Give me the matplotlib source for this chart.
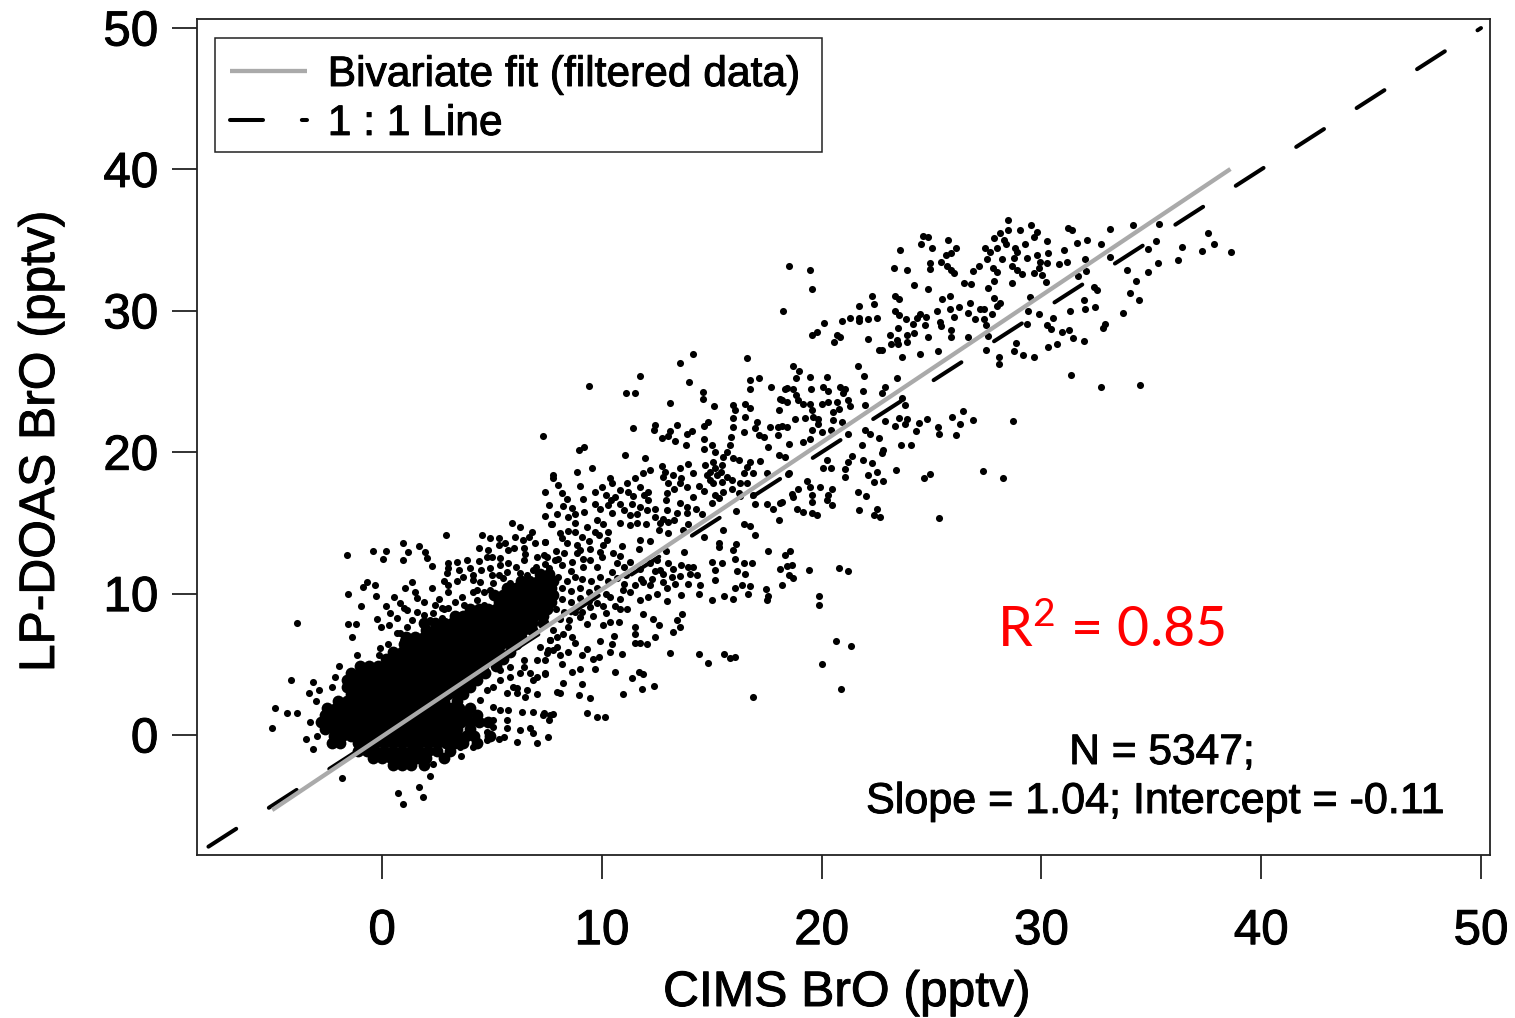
import numpy as np
import matplotlib
matplotlib.use("Agg")
import matplotlib.pyplot as plt
import matplotlib.patheffects as pe
from matplotlib.patches import Rectangle

# values, CIMS BrO / LP-DOAS BrO in pptv
high_pts = [(28.47,36.41),(28.12,35.47),(27.82,35.12),(28.46,35.75),(29.04,35.75),(29.52,36.06),(29.8,35.59),(29.64,35.24),(30.25,34.95),(29.26,34.76),(28.31,35.0),(28.4,34.76),(27.44,34.41),(27.97,34.41),(27.67,34.17),(28.81,34.41),(28.88,34.17),(27.52,33.7),(28.2,33.63),(28.73,33.77),(29.34,33.77),(29.8,33.94),(30.3,34.06),(29.95,33.47),(30.25,33.35),(30.78,33.28),(31.16,33.42),(31.01,34.29),(31.62,34.83),(32.07,35.0),(32.72,34.76),(31.19,35.83),(31.39,35.75),(33.1,35.78),(34.15,36.04),(35.33,36.13),(36.4,34.53),(37.56,35.47),(37.84,34.72),(37.31,34.24),(38.63,34.17),(36.2,33.58),(35.3,33.4),(35.23,34.93),(34.83,34.36),(34.85,32.78),(34.32,32.1),(34.01,31.27),(34.44,30.8),(33.89,32.92),(33.1,33.82),(31.99,33.66),(32.04,32.83),(31.66,32.45),(32.37,31.7),(32.53,31.46),(31.92,30.8),(32.0,30.12),(32.45,30.28),(33.69,29.88),(32.9,29.06),(32.8,28.8),(31.31,29.98),(30.52,29.46),(29.87,29.76),(29.41,30.0),(29.49,31.0),(29.34,29.1),(30.25,28.99),(30.43,28.68),(30.93,28.51),(31.24,28.63),(31.43,28.11),(31.95,27.88),(30.73,27.62),(30.28,27.45),(29.64,26.74),(29.14,26.86),(28.76,27.17),(28.84,27.74),(27.47,27.22),(28.05,26.74),(28.09,26.23),(31.36,25.45),(32.72,24.62),(34.48,24.72),
(24.63,35.28),(24.82,35.24),(24.53,34.72),(25.04,34.41),(25.74,35.0),(26.11,34.41),(23.57,34.29),(25.65,33.94),(25.89,34.06),(25.44,33.47),(25.7,33.16),(25.88,32.88),(26.0,32.69),(24.91,33.35),(24.91,32.95),(23.27,33.0),(23.88,32.88),(26.88,32.83),(27.17,33.18),(27.78,33.0),(28.0,32.76),(28.66,33.18),(28.91,32.88),(29.11,32.6),(29.64,32.69),(29.87,33.0),(30.02,32.52),(30.22,32.05),(26.46,31.98),(26.8,31.89),(27.82,32.1),(27.55,31.63),(28.66,32.0),(24.18,31.82),(24.82,31.53),
(25.82,31.06),(25.47,30.83),(23.35,31.06),(23.5,30.83),(22.31,31.04),(22.36,30.45),(21.71,30.35),(26.73,30.52),(27.82,30.92),(28.12,30.52),(27.97,30.33),(25.24,30.0),(25.82,30.1),(26.23,30.28),(27.21,30.16),(27.4,30.1),(26.65,29.88),(27.75,29.81),(26.0,29.53),(23.34,29.98),(23.54,29.69),(23.85,29.39),(24.48,29.81),(24.33,29.46),(24.74,29.53),(24.15,29.06),(24.71,28.99),(25.39,29.22),(25.44,28.92),(26.99,29.39),(27.4,29.39),(27.49,29.03),(23.47,28.75),(23.88,28.28),(24.18,28.4),(24.83,28.16),(25.88,28.63),(25.88,28.16),(26.65,28.16),(27.55,28.21),(23.12,28.28),(23.45,27.92),(23.16,27.64),(23.47,27.62),(23.88,27.81),(22.59,27.26),(22.74,27.26),(23.65,26.74),(24.48,26.98),(25.29,27.17),
(21.68,29.46),(21.68,29.29),(21.3,29.46),(20.92,29.27),(22.09,29.39),(22.51,29.46),(20.13,29.15),(19.78,28.51),(19.58,28.28),(20.69,28.28),(20.84,28.16),(20.58,27.81),(22.13,28.04),(18.53,33.18),(19.49,32.92),(19.58,31.53),(18.22,29.98)]

mid_pts = [(18.72,26.11),(18.99,25.73),(18.84,25.28),(19.48,25.33),(20.23,25.33),(21.65,26.11),(21.95,25.38),(23.45,25.26),(18.34,24.5),(18.72,24.5),(18.82,24.03),(19.52,24.46),(20.08,24.58),(20.28,24.34),(20.84,24.58),(21.07,24.5),(20.99,24.2),(21.86,24.34),(22.89,24.62),(22.74,24.2),(18.19,23.68),(18.44,23.56),(18.94,23.68),(19.17,23.4),(19.48,23.44),(20.01,23.4),(20.31,23.56),(20.69,23.56),(21.22,23.68),(21.3,23.25),(21.98,23.33),(23.8,23.33),(23.65,23.8),(19.55,22.97),(20.54,22.85),(20.77,23.09),(19.63,22.5),(18.79,22.38),(19.25,22.45),(20.54,22.26),(20.92,22.15),(19.85,22.38),(18.19,21.84),(18.41,21.79),(19.85,21.98),(19.55,21.56),(20.01,21.44),(20.43,21.56),(19.17,20.73),(19.48,20.9),(18.53,20.61),(21.22,21.27),(21.98,21.56),(22.18,21.27),(22.59,20.97),(21.83,20.5),(22.81,20.14),(22.74,19.91),(23.6,20.5),(24.06,20.5),(22.89,22.19),(23.34,21.86),(23.54,22.43),(23.88,22.38),(23.8,21.98),(24.3,21.49),(24.41,22.03),(24.79,22.38),(25.29,21.79),(25.35,21.32),(25.92,22.5),(26.43,22.92),(26.3,21.98),(26.88,22.26),(26.1,21.25),(28.69,22.22),
(20.23,19.43),(20.08,18.89),(20.42,18.89),(21.37,19.72),(21.22,19.32),(21.07,18.84),(21.07,18.25),(21.9,19.43),(22.28,19.27),(22.13,18.42),(22.51,18.61),(22.36,17.9),(22.81,17.97),(23.38,18.77),(24.91,18.49),(24.68,18.14),(27.34,18.68),(28.23,18.14),(18.49,18.49),(19.32,17.95),(18.94,17.43),(19.48,17.55),(19.93,17.55),(20.46,17.43),(18.64,17.07),(19.55,16.96),(20.31,16.96),(21.67,17.15),(22.01,16.89),(18.72,16.84),(19.55,16.49),(20.23,16.6),(20.46,16.25),(18.87,16.01),(19.17,15.78),(19.55,15.71),(19.78,15.54),(21.7,15.94),(22.51,16.01),(22.36,15.54),(22.66,15.42),(25.36,15.38),(18.19,16.49)]

low_pts = [(14.14,26.92),(13.56,26.28),(16.6,26.63),(11.74,25.38),(13.97,25.0),(9.42,24.68),(11.09,24.16),(11.51,24.16),(14.58,24.27),(14.58,23.73),(13.08,23.45),(16.75,25.1),(17.13,25.26),(16.75,24.46),(17.7,24.63),(18.12,23.73),(18.42,24.51),(18.04,22.98),(15.11,23.26),(15.99,23.33),(16.04,22.98),(16.52,23.4),(16.75,23.1),(16.52,22.46),(15.96,22.39),(17.05,22.15),(14.85,22.15),(14.63,21.85),(15.96,21.75),(12.43,21.92),(12.39,21.56),(11.41,21.68),(13.44,21.92),(13.11,21.51),(12.73,21.02),(13.03,21.14),(13.34,20.78),(13.87,21.26),(14.09,21.51),(13.82,20.5),(16.48,21.44),(16.98,21.68),(17.13,21.21),(17.36,21.04),(17.66,21.8),(18.0,21.75),(18.0,21.21),(15.87,21.09),(14.63,20.9),(14.63,20.26),(15.0,20.5),(15.16,20.03),(15.84,20.5),(15.69,20.03),(15.5,19.63),(17.55,20.38),(11.06,19.79),(11.97,19.6),(9.21,20.34),(8.94,20.15),(7.31,21.14),
(15.99,19.56),(16.22,19.44),(16.75,19.32),(17.21,19.39),(18.04,19.79),(18.34,19.68),(12.73,19.02),(13.56,18.85),(13.94,19.16),(14.7,19.09),(15.08,19.32),(15.46,19.09),(15.16,18.85),(16.6,18.97),(9.54,18.9),(12.2,18.73),(11.89,18.5),(11.51,18.21),(11.14,17.79),(8.86,18.57),(7.77,18.38),(7.77,18.14),(10.35,18.19),(12.88,18.61),(13.26,18.38),(14.14,18.5),(14.78,18.38),(14.93,18.61),(15.23,18.38),(15.69,18.26),(16.45,18.5),(16.9,18.5),(17.51,18.5),(18.5,18.5),(8.02,17.67),(9.01,17.62),(12.8,18.26),(13.03,17.79),(13.56,17.79),(13.87,17.55),(15.08,17.79),(15.46,17.9),(15.92,18.02),(16.29,17.79),(16.6,17.79),
(10.0,17.55),(10.45,17.79),(9.69,17.2),(10.83,17.32),(10.6,16.84),(11.21,17.2),(11.74,17.55),(12.12,17.2),(12.96,17.08),(7.42,17.2),(8.18,17.08),(9.16,16.66),(14.17,16.84),(14.63,17.27),(15.16,16.96),(15.31,16.73),(15.0,16.42),(16.22,17.08),(16.98,16.37),(17.51,16.37),(16.9,16.96),(9.69,16.37),(10.3,16.26),(10.83,16.37),(11.36,16.37),(11.74,16.14),(12.12,16.61),(12.05,15.9),(13.56,16.42),(13.87,16.14),(13.41,15.67),(13.87,15.67),(12.96,15.9),(12.43,15.43),(12.8,15.31),(12.65,14.96),(13.03,15.08),(7.61,16.26),(8.22,16.18),(8.63,16.02),(8.48,15.43),(8.78,15.62),(7.98,15.6),(7.42,15.48),(7.69,14.89),(10.45,15.71),(11.29,15.55),(10.83,15.0),(11.29,14.84),(11.59,14.96),(10.07,14.89),(8.78,14.96),(9.31,14.68),(12.58,14.49),(13.03,14.3),(13.71,14.53),(14.55,15.62),(16.1,15.83),(14.63,14.01),(15.49,14.49),(16.45,14.89),(16.75,14.77),(16.98,14.13),(18.04,15.2),(17.81,15.95),(18.12,16.42),
(8.1,14.3),(8.18,13.9),(8.48,14.42),(8.78,14.37),(9.09,14.01),(9.69,14.37),(9.85,14.13),(10.3,14.37),(10.22,13.78),(7.42,13.66),(11.74,13.78),(12.17,13.71),(11.67,13.12),(12.93,13.0),(13.75,12.95),(15.31,13.61),(15.31,13.26),(16.1,13.54),(15.96,13.07),(17.58,13.02),(18.57,13.02),(18.34,12.72),(8.86,13.43),(9.01,13.07),(9.47,13.12),(10.07,13.43),(9.92,12.95),(10.0,12.59),(10.5,12.84),(10.83,12.65),(7.49,12.6),(8.02,12.48),(8.86,12.84),(9.16,12.48),(9.47,12.36),(11.29,12.25),(10.68,12.13),(10.45,11.54),(8.63,12.25),(9.77,11.89),(9.16,11.89),
(12.5,12.36),(12.2,12.13),(11.74,11.77),(13.03,12.13),(13.26,11.77),(12.65,11.66),(13.94,11.89),(14.17,11.85),(15.0,12.25),(15.46,12.13),(15.16,11.66),(16.07,12.48),(16.45,12.17),(16.83,12.17),(16.14,11.61),(16.52,11.37),(18.12,11.77),(18.65,12.01),(18.42,11.94),(19.44,11.66),(20.8,11.82),(21.2,11.61),(18.5,11.3),(18.72,11.11),(18.19,10.64),(12.8,11.42),(13.56,11.23),(13.34,10.71),(14.32,11.3),(13.94,10.71),(14.47,10.6),(15.16,10.95),(16.04,10.41),(16.37,10.6),(16.72,10.52),(17.48,10.29),(17.58,9.82),(19.86,9.82),(19.86,9.18),
(11.89,10.83),(12.2,10.6),(10.98,10.24),(11.29,10.12),(10.83,9.65),(10.38,9.77),(11.74,9.58),(12.12,9.77),(12.5,10.0),(12.96,10.36),(12.96,9.46),(13.61,9.93),(14.44,9.96),(15.0,9.53),(15.54,9.84),(15.99,9.65),(16.63,9.96),(17.51,9.53),(9.47,9.06),(10.07,9.13),(10.83,8.94),(11.14,8.94),(9.09,8.71),(8.78,8.71),(9.31,7.88),(10.07,7.76),(10.38,8.0),(10.76,8.0),(11.89,8.59),(12.35,8.17),(12.58,7.76),(13.64,8.54),(13.41,8.12),(13.56,7.65),(13.26,7.29),(11.51,7.65),(11.51,7.17),(12.43,6.94),(11.51,6.51),(11.74,6.47),(12.05,6.42),(10.56,7.01),(9.92,6.63),(10.45,6.42),(10.38,5.88),(10.91,5.76),(13.08,5.81),(14.44,5.76),(14.85,5.1),(15.58,5.76),(15.84,5.41),(16.07,5.52),(20.67,6.66),(21.35,6.3),(20.01,5.05),(20.89,3.28),(16.9,2.65),
(9.31,6.11),(9.09,5.64),(9.85,5.52),(9.62,5.34),(8.18,5.05),(9.01,4.7),(9.69,4.65),(8.63,4.46),(10.6,4.46),(11.67,4.46),(11.89,4.34),(11.36,4.0),(11.82,3.28),(12.39,3.47),(10.98,2.93),(8.22,3.71),(9.09,3.64),(8.1,3.0),(8.94,2.81),(9.47,2.58),(9.31,1.56),(9.77,1.28),(10.15,1.28),(7.65,1.4),(7.34,1.4),(7.8,7.4),(8.25,7.17),(8.63,6.94),(8.78,6.47),(8.48,5.88),(7.95,6.23),(7.57,6.0),(8.1,5.64),(7.42,5.29),(7.65,6.7),(7.95,6.94),(8.48,7.65),(9.01,8.35),(7.42,4.34)]

band_pts = [(7.9,13.0),(8.3,12.9),(8.2,12.0),(8.6,11.6),(7.6,11.8),(8.0,11.2),(8.4,10.9),(8.8,11.2),(9.1,11.0),(9.5,10.9),(9.9,11.2),(10.3,10.9),(10.7,11.1),(11.1,11.3),(8.2,10.4),(8.6,10.2),(9.0,10.4),(9.4,10.1),(9.8,10.4),(10.2,10.0),(7.8,9.9),(8.2,9.6),(8.6,9.4),(9.0,9.7),(9.4,9.5),(9.8,9.3),(7.9,8.9),(8.3,8.7),(8.1,8.2),(8.5,8.1),(9.6,8.4),(10.2,8.6),(10.6,9.1),(11.0,10.7),(11.5,10.6),(11.8,11.0),(12.3,11.0),(12.8,10.8),(13.2,11.2),(13.6,12.0),(14.0,11.4),(12.4,11.6),(11.0,11.9),(10.9,13.4),(9.4,13.7),(8.4,13.6),(9.8,15.2),(10.4,16.6),(11.0,15.9),(11.6,15.6),(12.0,14.9),(12.4,16.0),(12.9,16.6),(13.3,15.2),(13.9,14.9),(14.3,16.0),(11.9,17.0),(10.2,17.0),(11.4,16.9),(13.3,17.4),(14.4,17.6),(15.5,17.2),(15.9,17.4),(16.3,16.9),(14.9,18.0),(15.4,18.6),(13.6,18.2),(8.4,16.7),(9.2,15.8),(9.9,16.0),
(0.2,9.1),(0.8,9.3),(1.9,9.4),(2.6,9.6),(3.0,10.6),(3.4,10.9),(3.7,11.2),(3.0,11.8),(3.5,11.7),(4.0,11.8),(4.5,11.7),(5.0,11.3),(5.0,12.6),(5.5,11.1),(6.1,11.9),(6.6,11.3),(6.5,12.8),(7.0,11.9),(7.4,12.1),(6.0,13.2),(6.4,13.8),(5.6,13.6),(4.8,13.1),(2.4,9.2),(3.0,9.0),(1.0,9.0),(0.3,7.8),(0.7,7.2)]

edge_pts = [(-1.6,12.72),(-0.39,13.0),(0.19,13.03),(0.06,12.42),(0.97,13.6),(1.2,12.96),(0.94,12.37),(1.7,13.36),(1.96,12.96),(2.04,12.49),(2.26,11.95),(2.9,14.14),(4.54,14.14),(4.92,13.9),(5.3,13.9),(5.3,13.43),(4.39,13.2),(6.06,14.02),(6.82,14.37),(6.67,14.02),(6.97,13.55),(7.42,13.67),(7.73,14.92),(6.26,14.73),(5.9,15.01),(4.77,12.61),(4.42,12.32),(3.86,12.37),(3.4,12.25),(3.02,12.13),(5.38,12.49),(5.75,13.08),(6.44,13.2),(2.95,11.43),(2.8,10.91),(1.35,10.84),(1.05,10.37),(1.51,10.13),(1.58,9.66),(2.26,10.37),(-0.69,10.84),(-0.85,10.48),(-0.31,10.6),(-1.56,9.94),(-0.28,9.85),(0.55,9.78),(-0.95,9.12),(3.02,10.13),(3.63,9.78),(3.33,9.42),(4.16,10.95),(4.92,11.78),(4.16,10.13),(4.62,10.13),(-3.85,7.94),(-1.53,7.84),(-1.2,7.84),(-0.24,8.2),(0.34,8.6),(0.7,8.24),(-0.06,7.65),(-1.38,6.95),(1.13,8.83),(1.58,8.71),(2.34,8.64),(2.8,8.88),(-1.12,5.65),(0.29,6.43),(-0.09,6.12),(-0.16,5.65),(-1.94,4.89),(-2.14,4.11),(-4.14,3.88),(-3.15,3.76),(-2.85,3.17),(-3.32,2.98),(-2.29,3.41),(-3.0,2.39),(-4.85,1.92),(-4.34,1.57),(-3.88,1.57),(-5.0,0.51),(-3.47,-0.3),(-2.97,-0.08),(-3.15,-1.0),(-3.27,0.93),(-1.8,-3.03),(0.72,-4.07),(1.66,-3.67),(1.84,-4.38),(0.94,-4.85),(2.19,-2.91),(2.34,-2.02),(3.6,-1.47),(7.05,2.89),(7.96,3.05),(7.53,-0.13),(7.05,-0.6),(6.13,-0.48),(7.58,1.05),(7.8,1.47),(7.35,1.52),(6.89,1.64),(6.36,1.64),(5.75,1.76),(6.51,2.7),(6.13,3.29),(6.89,3.88),(7.42,4.35),(6.29,0.34),(6.74,0.46),(5.68,0.46),(5.3,-0.25),(4.77,0.22),(5.38,3.88),(5.07,3.41),(4.47,2.46),(5.68,2.94),(4.77,3.17),(6.89,0.11),
(4.16,11.3),(4.47,10.84),(5.07,10.72),(5.3,11.3),(5.83,10.72),(5.75,12.13),(6.44,12.37),(6.29,11.43),(7.05,12.6),(7.35,12.72),(7.88,12.37),(6.89,11.66),(5.38,12.02),(5.68,11.54),(4.31,10.25),(4.92,10.25),(2.72,8.95),(2.72,8.24),(1.89,8.48),(2.19,8.12),(3.25,8.12),(3.71,9.19),(4.31,9.54),(4.62,9.19),(4.0,8.6),(0.82,7.18),(1.35,8.12),(1.13,7.65),(0.97,6.71),(0.52,6.0),
(5.07,2.0),(5.38,1.76),(5.98,3.41),(6.59,3.17),(6.13,2.94),(5.38,4.59),(5.83,4.82),(6.44,4.82),(7.05,5.29),(7.5,5.77),(6.44,5.29),(7.2,6.24),(7.65,6.71),(7.8,6.0),(5.83,4.11),(6.29,4.35),(7.05,4.11),(6.74,4.35),(5.07,0.58),(5.68,1.05),(5.07,1.05),(5.53,-0.13),(4.77,-0.37),(4.16,-0.84),(3.55,-0.84),(3.1,-1.07)]

# solid part of the cloud, one row of points per LP-DOAS level
core_y = [11.4,10.9,10.4,9.9,9.4,8.9,8.4,7.9,7.4,6.9,6.4,5.9,5.4,4.9,4.4,3.9,3.4,2.9,2.4,1.9,1.4,0.9,0.4,-0.1,-0.6,-1.1,-1.6,-2.1]
core_x = [
    [7.2,7.6],
    [6.3,6.7,7.1,7.5,7.8],
    [5.7,6.1,6.5,6.9,7.3,7.7],
    [5.1,5.5,5.9,6.3,6.7,7.1,7.5,7.8],
    [5.3,5.7,6.1,6.5,6.9,7.3,7.7],
    [4.0,4.4,4.8,5.2,5.6,6.0,6.4,6.8,7.2,7.5],
    [3.3,3.7,4.1,4.5,4.9,5.3,5.7,6.1,6.5,6.9,7.3],
    [1.9,2.4,2.8,3.2,3.6,4.0,4.4,4.8,5.2,5.6,6.0,6.4,6.8,7.3],
    [2.0,2.4,2.8,3.2,3.6,4.0,4.4,4.8,5.2,5.6,6.0,6.4,6.8],
    [1.1,1.5,1.9,2.3,2.7,3.1,3.5,3.9,4.3,4.7,5.1,5.5,5.9,6.3],
    [1.0,1.4,1.8,2.2,2.6,3.0,3.4,3.8,4.2,4.6,5.0,5.4,5.8,6.1],
    [0.5,0.9,1.3,1.7,2.1,2.5,2.9,3.3,3.7,4.1,4.5,4.9,5.3,5.8],
    [0.2,0.6,1.0,1.4,1.8,2.2,2.6,3.0,3.4,3.8,4.2,4.6,5.0,5.5],
    [-1.0,-0.6,-0.2,0.2,0.6,1.0,1.4,1.8,2.2,2.6,3.0,3.4,3.8,4.2,4.6,5.2],
    [-1.4,-1.0,-0.6,-0.2,0.2,0.6,1.0,1.4,1.8,2.2,2.6,3.0,3.4,3.8,4.2,4.7],
    [-1.6,-1.2,-0.8,-0.4,0.0,0.4,0.8,1.2,1.6,2.0,2.4,2.8,3.2,3.6,4.0,4.3],
    [-1.6,-1.2,-0.8,-0.4,0.0,0.4,0.8,1.2,1.6,2.0,2.4,2.8,3.2,3.6,4.0],
    [-1.4,-1.0,-0.6,-0.2,0.2,0.6,1.0,1.4,1.8,2.2,2.6,3.0,3.4,3.7],
    [-2.0,-1.6,-1.2,-0.8,-0.4,0.0,0.4,0.8,1.2,1.6,2.0,2.4,2.8,3.4],
    [-2.5,-2.1,-1.7,-1.3,-0.9,-0.5,-0.1,0.3,0.7,1.1,1.5,1.9,2.3,2.7,3.1,3.5,4.0],
    [-2.6,-2.2,-1.8,-1.4,-1.0,-0.6,-0.2,0.2,0.6,1.0,1.4,1.8,2.2,2.6,3.0,3.4,3.8,4.3],
    [-2.8,-2.4,-2.0,-1.6,-1.2,-0.8,-0.4,0.0,0.4,0.8,1.2,1.6,2.0,2.4,2.8,3.2,3.6,4.0,4.4,4.8],
    [-2.6,-2.2,-1.8,-1.4,-1.0,-0.6,-0.2,0.2,0.6,1.0,1.4,1.8,2.2,2.6,3.0,3.4,4.0],
    [-2.2,-1.8,-1.4,-1.0,-0.6,-0.2,0.2,0.6,1.0,1.4,1.8,2.2,2.6,3.0,3.4,3.8,4.2,4.9],
    [-2.3,-1.9,-1.1,-0.7,-0.3,0.1,0.5,0.9,1.3,1.7,2.1,2.5,2.9,3.3,3.7,4.3],
    [-1.1,-0.7,-0.3,0.1,0.5,0.9,1.3,1.7,2.1,2.5,3.1],
    [-0.4,0.0,0.4,0.8,1.2,1.6,2.0,2.8],
    [0.5,0.9,1.3,1.9],
]

fit_x = [-5.0, 38.6]
fit_y = [-5.31, 40.03]
one_x = [-7.9, 50.0]
one_y = [-7.9, 50.0]
xticks = [0, 10, 20, 30, 40, 50]
yticks = [0, 10, 20, 30, 40, 50]

plt.rcParams['font.family'] = ['Liberation Sans', 'DejaVu Sans']
plt.rcParams['mathtext.fontset'] = 'custom'
plt.rcParams['mathtext.rm'] = 'Lato'
plt.rcParams['mathtext.default'] = 'rm'

fig = plt.figure(figsize=(15.15, 10.18), dpi=100)
ax = fig.add_axes([197/1515, 1-855/1018, (1490-197)/1515, (855-19)/1018])

pts = np.array(high_pts + mid_pts + low_pts + band_pts + edge_pts)
ax.scatter(pts[:, 0], pts[:, 1], s=26, c='black', linewidths=0, zorder=2)

core = np.array([(x, y) for y, xs in zip(core_y, core_x) for x in xs])
ax.scatter(core[:, 0], core[:, 1], s=72, c='black', linewidths=0, zorder=2)

ax.plot(one_x, one_y, color='black', lw=2.9, linestyle=(0, (8.2, 9.64)), dash_capstyle='round',
        zorder=3, label='1 : 1 Line')
ax.plot(fit_x, fit_y, color='#aaaaaa', lw=3.1, solid_capstyle='butt', zorder=4,
        label='Bivariate fit (filtered data)')

ax.set_xlim(-8.42, 50.41)
ax.set_ylim(-8.49, 50.64)
ax.set_xticks(xticks)
ax.set_yticks(yticks)
ax.tick_params(axis='x', length=17, width=1.3, color='#222222', pad=22, labelsize=35.5)
ax.tick_params(axis='y', length=18, width=1.3, color='#222222', pad=10, labelsize=35.5)
for s in ax.spines.values():
    s.set_linewidth(1.3)
    s.set_color('#222222')

ax.set_xlabel('CIMS BrO (pptv)', fontsize=35.8, va='center')
ax.xaxis.set_label_coords(847/1515, 1-993/1018, transform=fig.transFigure)
ax.set_ylabel('LP-DOAS BrO (pptv)', fontsize=35.8, va='center')
ax.yaxis.set_label_coords(41/1515, 1-441/1018, transform=fig.transFigure)

# legend frame drawn apart so its box can match the original padding
ax.add_patch(Rectangle((215/1515, 1-152/1018), 607/1515, 114/1018, transform=fig.transFigure,
                       facecolor='white', edgecolor='#222222', linewidth=1.1, zorder=5))
h, l = ax.get_legend_handles_labels()
leg = ax.legend(h[::-1], l[::-1], loc='upper left', bbox_to_anchor=(230/1515, 1-55/1018),
                bbox_transform=fig.transFigure, fontsize=30.6, borderaxespad=0,
                frameon=False, borderpad=0, handlelength=1.81, handletextpad=0.49,
                labelspacing=0.21)
leg.set_zorder(6)

t1 = fig.text(1162/1515, 1-753/1018, 'N = 5347;', fontsize=30.6, ha='center', va='center')
t2 = fig.text(1155/1515, 1-802/1018, 'Slope = 1.04; Intercept = -0.11', fontsize=31,
              ha='center', va='center')
fig.text(1111/1515, 1-631/1018, 'R$^{2}$ = 0.85', fontsize=40, color='#ff0000', ha='center',
         va='center', family=['Lato', 'DejaVu Sans'])

# the original lettering is a bit heavier than the plain font
heavy = [pe.withStroke(linewidth=0.7, foreground='black')]
labels = ax.get_xticklabels() + ax.get_yticklabels() + leg.get_texts() + [ax.xaxis.label, ax.yaxis.label, t1, t2]
for t in labels:
    t.set_path_effects(heavy)

fig.savefig('out.png', dpi=100)
